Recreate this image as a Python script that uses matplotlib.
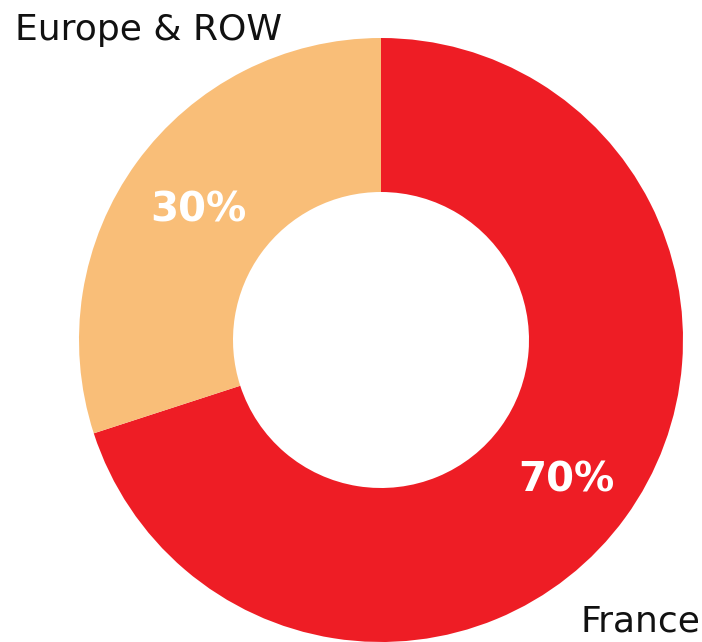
import matplotlib
matplotlib.use("Agg")
import matplotlib.pyplot as plt

categories = ["France", "Europe & ROW"]
values = [70, 30]
pct_labels = ["70%", "30%"]
colors = ["#EE1D25", "#F9BE78"]

W, H = 702, 642
fig = plt.figure(figsize=(W / 100, H / 100), dpi=100)
ax = fig.add_axes([0, 0, 1, 1])

cx, cy, R = 381, H - 340, 302
wedges, _ = ax.pie(values, colors=colors, startangle=90, counterclock=False,
                   center=(cx, cy), radius=R,
                   wedgeprops=dict(width=R - 148, linewidth=0))
ax.set_xlim(0, W)
ax.set_ylim(0, H)
ax.set_aspect('equal')
ax.axis('off')

# percentage labels
ax.text(566, H - 481, pct_labels[0], color="white", fontsize=29, fontweight="bold",
        ha="center", va="center", family="DejaVu Sans")
ax.text(198, H - 211, pct_labels[1], color="white", fontsize=29, fontweight="bold",
        ha="center", va="center", family="DejaVu Sans")

# category labels
ax.text(15, H - 30, categories[1], color="#111111", fontsize=26,
        ha="left", va="center", family="DejaVu Sans")
ax.text(700, H - 622, categories[0], color="#111111", fontsize=26,
        ha="right", va="center", family="DejaVu Sans")

fig.savefig("out.png", dpi=100)
